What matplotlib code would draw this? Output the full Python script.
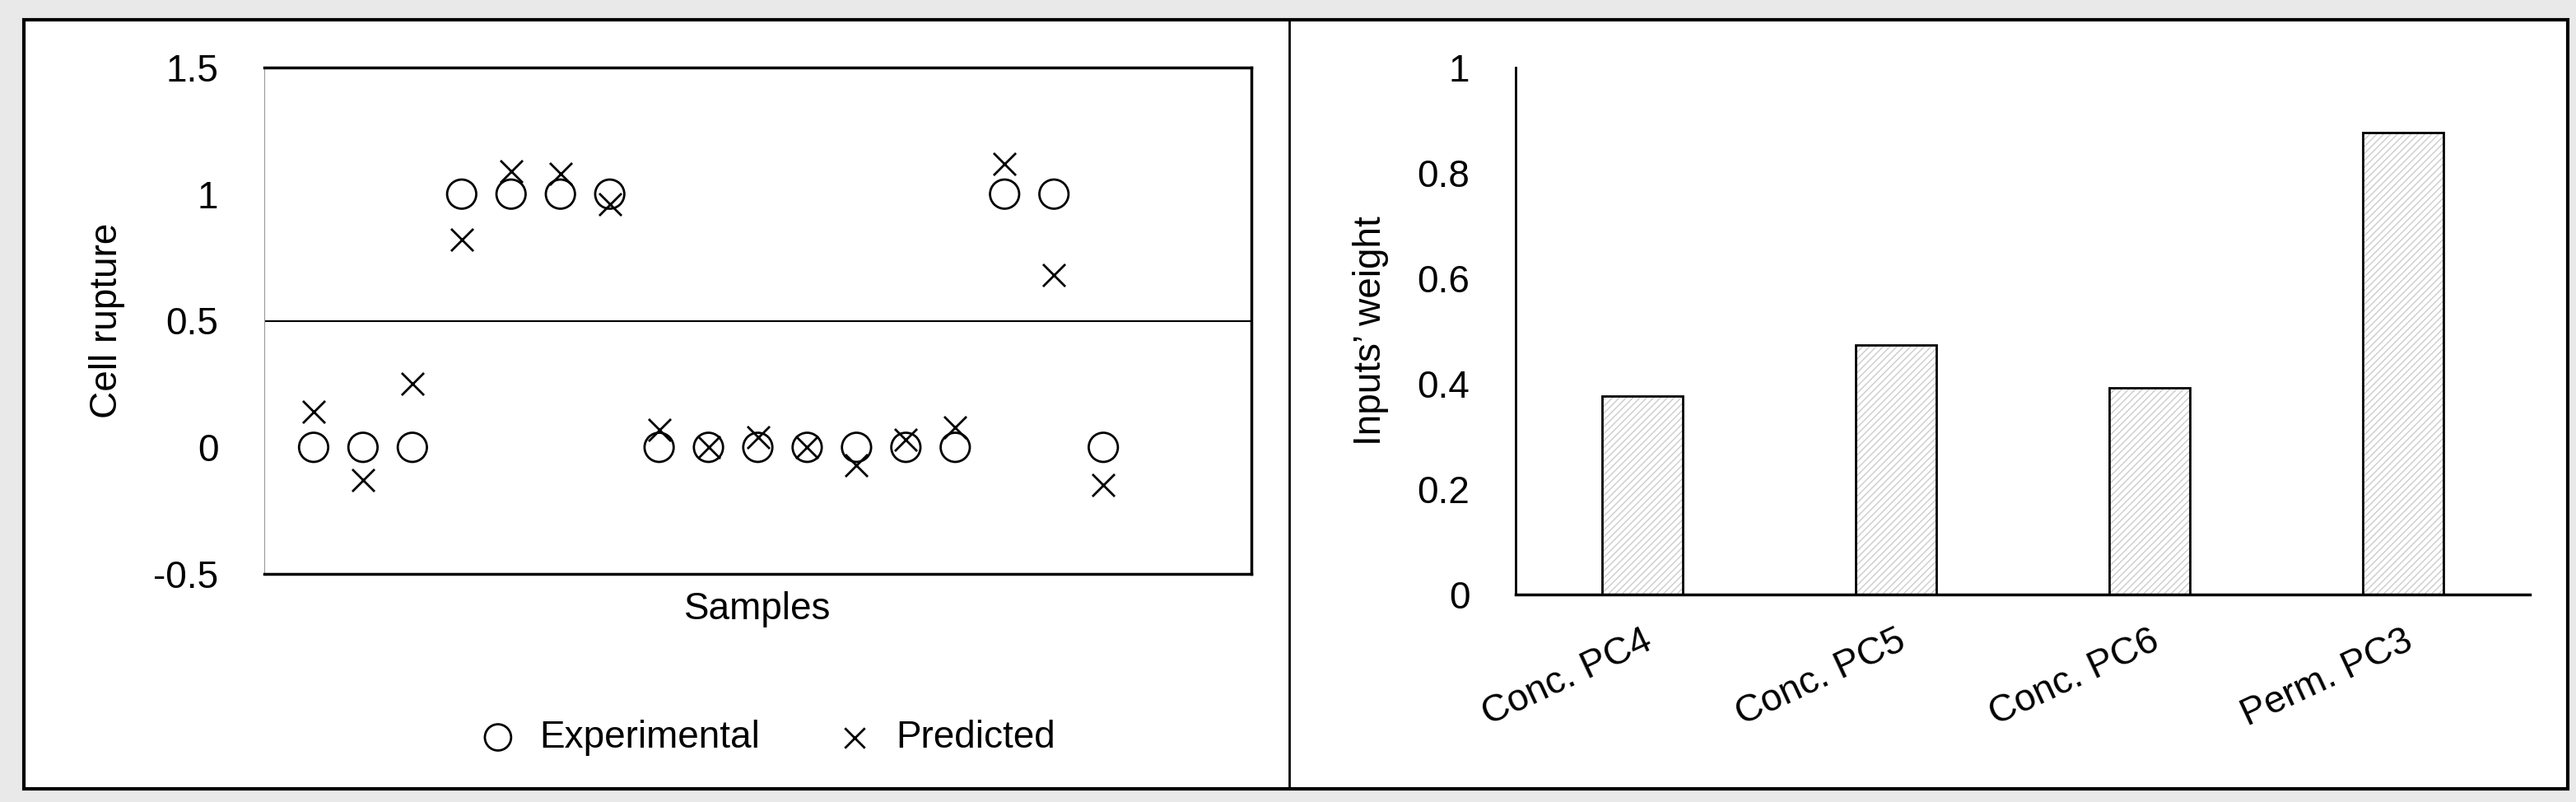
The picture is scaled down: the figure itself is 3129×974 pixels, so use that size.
import matplotlib
matplotlib.use("Agg")
import matplotlib.pyplot as plt
from matplotlib.patches import Rectangle
from matplotlib.lines import Line2D

samples = list(range(1, 18))
experimental = [0, 0, 0, 1, 1, 1, 1, 0, 0, 0, 0, 0, 0, 0, 1, 1, 0]
predicted = [0.14, -0.13, 0.25, 0.82, 1.09, 1.08, 0.96, 0.07, 0.0, 0.04, 0.0, -0.07, 0.03, 0.08, 1.12, 0.68, -0.15]

inputs = ["Conc. PC4", "Conc. PC5", "Conc. PC6", "Perm. PC3"]
weights = [0.377, 0.473, 0.392, 0.876]

plt.rcParams['font.family'] = ['Liberation Sans', 'DejaVu Sans']
plt.rcParams['hatch.linewidth'] = 1.0

W, H = 3129, 974
fig = plt.figure(figsize=(W/100, H/100), dpi=100)
fig.patch.set_facecolor('#e9e9e9')
fig.add_artist(Rectangle((29/W, 1-958/H), (3119-29)/W, (958-24)/H, transform=fig.transFigure,
                         facecolor='white', edgecolor='black', lw=3, zorder=-1))
fig.add_artist(Line2D([1566/W, 1566/W], [1-958/H, 1-24/H], transform=fig.transFigure, color='black', lw=2))

fs = 33
# Left panel
ax1 = fig.add_axes([321/W, 1-697/H, (1520-321)/W, (697-82)/H])
ax1.scatter(samples, experimental, marker='o', s=650, facecolors='none', edgecolors='black', linewidths=2, label='Experimental', zorder=3)
ax1.scatter(samples, predicted, marker='x', s=380, color='black', linewidths=2, label='Predicted', zorder=3)
ax1.axhline(0.5, color='black', lw=1.5)
ax1.set_xlim(0, 20)
ax1.set_ylim(-0.5, 1.5)
ax1.set_yticks([-0.5, 0, 0.5, 1, 1.5])
ax1.set_yticklabels(['-0.5', '0', '0.5', '1', '1.5'])
ax1.set_xticks([])
ax1.tick_params(axis='y', length=0, labelsize=fs, pad=40)
for s in ['top', 'bottom', 'right']:
    ax1.spines[s].set_linewidth(2.5)
ax1.spines['left'].set_linewidth(0.8)
ax1.spines['left'].set_color('#999999')
ax1.set_xlabel('Samples', fontsize=fs, labelpad=15)
ax1.set_ylabel('Cell rupture', fontsize=fs, labelpad=25)
ax1.legend(loc='upper center', bbox_to_anchor=(0.5, -0.22), ncol=2, frameon=False, fontsize=fs,
           handletextpad=0.1, columnspacing=1.5, markerscale=0.9)

# Right panel
ax2 = fig.add_axes([1841/W, 1-722/H, (3073-1841)/W, (722-82)/H])
x = range(len(inputs))
ax2.bar(x, weights, width=0.32, facecolor='white', edgecolor='#cccccc', lw=0, hatch='////')
ax2.bar(x, weights, width=0.32, facecolor='none', edgecolor='black', lw=2)
ax2.set_xlim(-0.5, len(inputs) - 0.5)
ax2.set_ylim(0, 1)
ax2.set_yticks([0, 0.2, 0.4, 0.6, 0.8, 1])
ax2.set_yticklabels(['0', '0.2', '0.4', '0.6', '0.8', '1'])
ax2.set_xticks(list(x))
ax2.set_xticklabels(inputs, rotation=25, ha='right', rotation_mode='anchor', fontsize=fs)
ax2.tick_params(axis='both', length=0, labelsize=fs)
ax2.tick_params(axis='y', pad=40)
ax2.tick_params(axis='x', pad=25)
for s in ['top', 'right']:
    ax2.spines[s].set_visible(False)
ax2.spines['left'].set_linewidth(2)
ax2.spines['bottom'].set_linewidth(2.5)
ax2.set_ylabel('Inputs\u2019 weight', fontsize=fs, labelpad=25)

fig.savefig('out.png', dpi=100, facecolor=fig.get_facecolor())
